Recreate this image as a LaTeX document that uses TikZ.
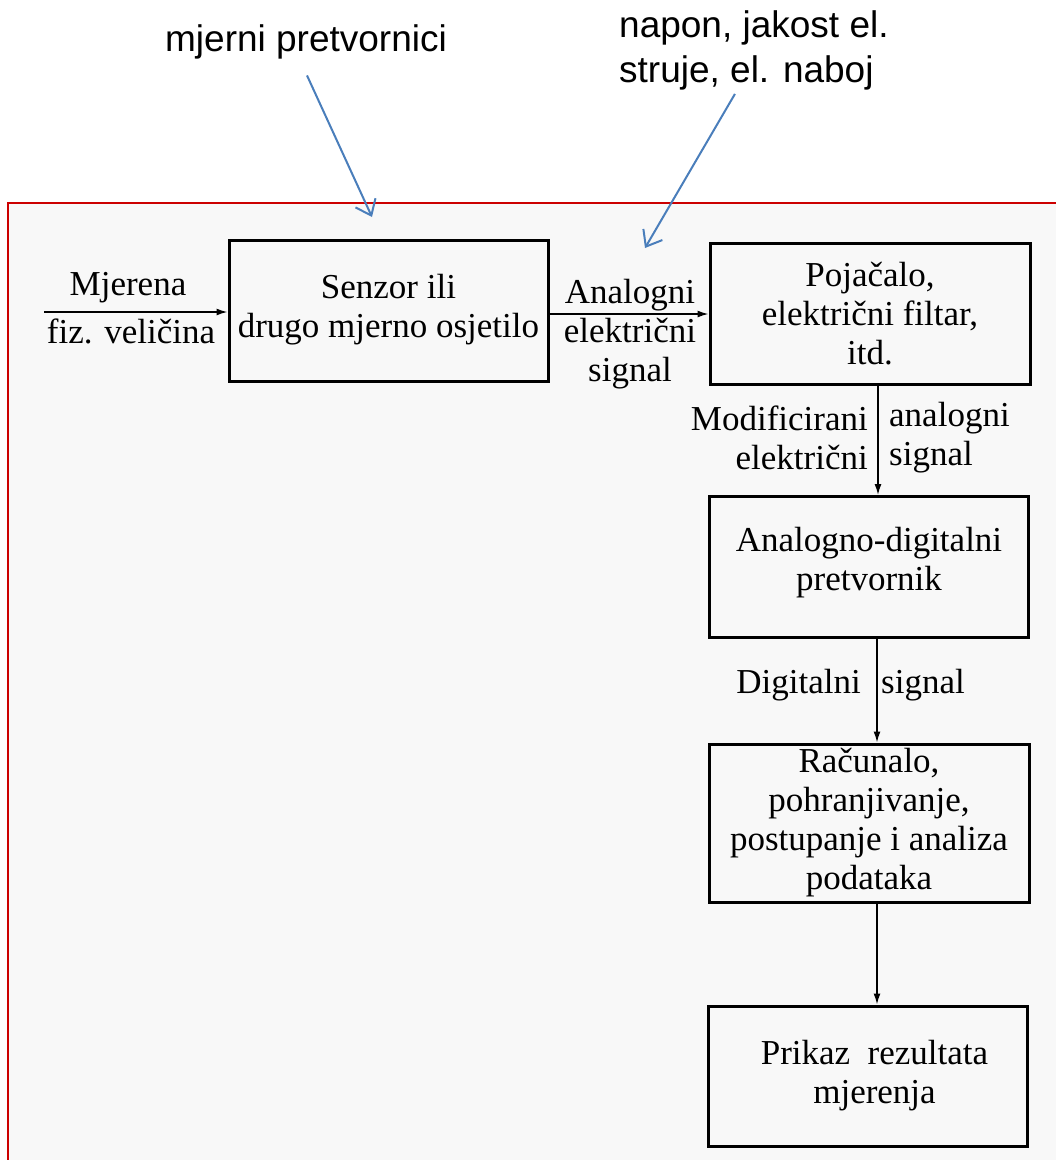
\documentclass[tikz,border=0pt]{standalone}
\usepackage{fontspec}
\setmainfont{Liberation Serif}
\newfontfamily\sansf{Liberation Sans}
\usetikzlibrary{arrows.meta}
\definecolor{plava}{RGB}{74,126,187}
\definecolor{crvena}{RGB}{204,0,0}
\definecolor{pozadina}{RGB}{248,248,248}
\tikzset{
  blok/.style={draw,line width=3pt,minimum width=319pt,minimum height=141pt,align=center,inner sep=0pt,
    font=\fontsize{35}{39}\selectfont},
  natpis/.style={inner sep=0pt,font=\fontsize{35}{39}\selectfont},
  opis/.style={inner sep=0pt,align=left,font=\sansf\fontsize{37}{45}\selectfont},
  tok/.style={line width=1.5pt,-{Latex[length=11pt,width=7pt]}},
  strelica/.style={plava,line width=2pt,-{Straight Barb[length=14pt,width=22pt]}}
}
\begin{document}
\begin{tikzpicture}[x=1pt,y=-1pt]% ------ Mjerni lanac ----------------
    \useasboundingbox (0,0) rectangle (1056,1160);
    \fill [pozadina] (8,203) rectangle (1056,1160);
    \draw [crvena,line width=2pt] (8,1160) -- (8,203) -- (1056,203);
    % blokovi
    \node [blok] (senzor) at (388.5,310.5) {Senzor ili\\drugo mjerno osjetilo\\[-29pt]};
    \node [blok,minimum width=320pt] (pojacalo) at (870,313.5) {Pojačalo,\\električni filtar,\\itd.};
    \node [blok] (adc) at (869,567) {Analogno-digitalni\\pretvornik\\[-23pt]};
    \node [blok,minimum width=320pt,minimum height=158pt] (racunalo) at (869,823) {Računalo,\\pohranjivanje,\\postupanje i analiza\\podataka};
    \node [blok,minimum height=140pt] (prikaz) at (867.5,1076) {\hspace*{14pt}Prikaz\ \ rezultata\\\hspace*{14pt}mjerenja};
    % veze
    \coordinate (ulaz) at (44,312);
    \draw [tok] (ulaz) -- (senzor.west |- ulaz);
    \draw [tok] (senzor.east |- 0,314) -- (pojacalo.west |- 0,314);
    \draw [tok] (pojacalo.south -| 878,0) -- (adc.north -| 878,0);
    \draw [tok] (adc.south -| 877,0) -- (racunalo.north -| 877,0);
    \draw [tok] (racunalo.south -| 877,0) -- (prikaz.north -| 877,0);
    % natpisi uz veze
    \node [natpis] (mjerena) at (128,288) {Mjerena};
    \node [natpis] (fiz) at (131,331) {fiz. veličina};
    \node [natpis,align=center] (analogni) at (630,334) {Analogni\\električni\\signal};
    \node [natpis,align=right,anchor=east] (modif) at (868,438) {Modificirani\\električni};
    \node [natpis,align=left,anchor=west] (modifd) at (889,438) {analogni\\signal};
    \node [natpis,anchor=east] (digit) at (861,685) {Digitalni};
    \node [natpis,anchor=west] (digitd) at (881,685) {signal};
    % opisi gore
    \node [opis] (mp) at (306,42) {mjerni pretvornici};
    \node [opis,anchor=west] (nap) at (619,50) {napon, jakost el.\\struje, el. naboj};
    \coordinate (senzorvrh) at (372,217);
    \coordinate (signalvrh) at (645,248);
    \draw [strelica] ([xshift=1pt,yshift=-16pt]mp.south) -- (senzorvrh);
    \draw [strelica] ([xshift=-19pt,yshift=-4pt]nap.south) -- (signalvrh);
\end{tikzpicture}
\end{document}
